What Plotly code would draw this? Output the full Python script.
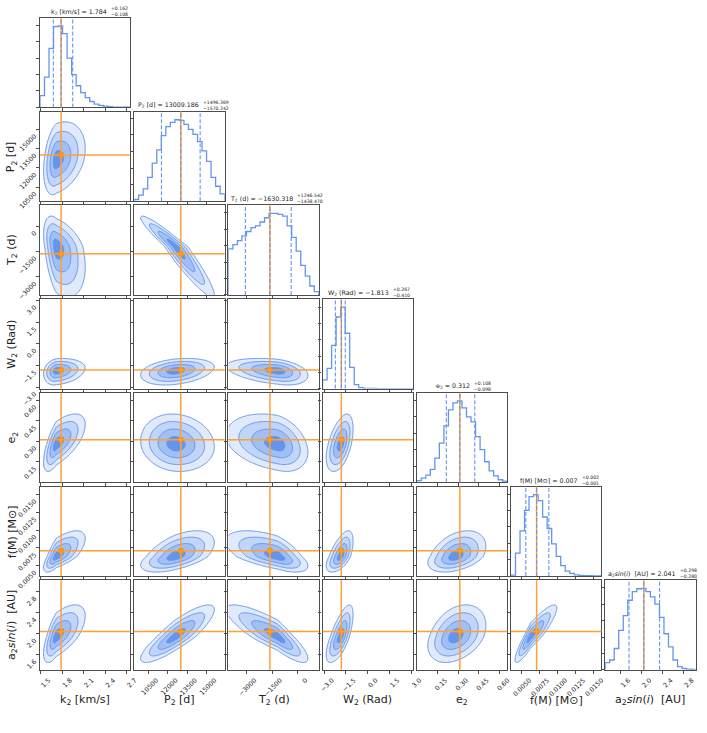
import re
import numpy as np
import plotly.graph_objects as go

W, H = 707, 733

BLUE = "#6495ED"
ORANGE_LINE = "#FFA033"
ORANGE_DOT = "#FF8C00"
FRAME = "#4D4D4D"
TEXT = "#222222"
FILLS = ["#E0EAFB", "#C1D5F8", "#A2BFF4", "#6495ED"]  # 2, 1.5, 1, 0.5 sigma
SIGMA_LEVELS = [2.0, 1.5, 1.0, 0.5]

# --- parameters -------------------------------------------------------------
labels = [
    "k<sub>2</sub> [km/s]",
    "P<sub>2</sub> [d]",
    "T<sub>2</sub> (d)",
    "W<sub>2</sub> (Rad)",
    "e<sub>2</sub>",
    "f(M) [M⊙]",
    "a<sub>2</sub><i>sin</i>(<i>i</i>)  [AU]",
]
med_txt = ["1.784", "13009.186", "−1630.318", "−1.813", "0.312", "0.007", "2.041"]
plus_txt = ["0.162", "1496.369", "1246.542", "0.267", "0.108", "0.002", "0.298"]
minus_txt = ["0.108", "1570.242", "1438.470", "0.410", "0.098", "0.001", "0.280"]

# quantile lines (16 / 50 / 84 %) and truth values
q16 = [1.676, 11513, -3068, -2.223, 0.214, 0.0056, 1.761]
q50 = [1.784, 13009, -1630, -1.813, 0.312, 0.0071, 2.041]
q84 = [1.946, 14505, -384, -1.546, 0.420, 0.0088, 2.339]
truths = [1.784, 13009, -1630, -1.813, 0.312, 0.0071, 2.041]

# axis extents and ticks
ranges = [[1.49, 2.75], [9400, 16400], [-4066, 1238], [-3.1, 3.1],
          [0.0, 0.655], [0.00354, 0.0161], [1.31, 3.02]]
tickvals = [[1.5, 1.8, 2.1, 2.4, 2.7], [10500, 12000, 13500, 15000],
            [-3000, -1500, 0], [-3.0, -1.5, 0.0, 1.5, 3.0],
            [0.15, 0.30, 0.45, 0.60], [0.0050, 0.0075, 0.0100, 0.0125, 0.0150],
            [1.6, 2.0, 2.4, 2.8]]
tickfmts = [".1f", "d", "d", ".1f", ".2f", ".4f", ".1f"]

# 1D histograms (20 bins over each axis range)
k2_counts = [36, 92, 180, 246, 248, 225, 150, 100, 66, 45, 30, 18, 10, 6, 4, 2, 1, 1, 0.5, 0.5]
p2_counts = [5, 18, 37, 72, 115, 155, 198, 225, 238, 246, 244, 232, 217, 202, 180, 152, 120, 72, 45, 22]
t2_counts = [140, 153, 165, 180, 193, 205, 210, 222, 235, 248, 248, 245, 240, 210, 175, 133, 90, 57, 27, 10]
w2_counts = [27, 62, 133, 220, 250, 170, 65, 12, 3, 1, 0.5, 0.3, 0.2, 0.1, 0.1, 0.1, 0.1, 0.1, 0.1, 0.1]
e2_counts = [5, 13, 22, 40, 74, 120, 173, 222, 243, 249, 228, 200, 185, 140, 100, 63, 35, 20, 8, 4]
fm_counts = [3, 70, 138, 200, 242, 248, 230, 180, 145, 98, 60, 32, 15, 8, 4, 2, 1, 1, 0.5, 0.5]
a2_counts = [22, 30, 65, 120, 165, 212, 238, 247, 248, 238, 222, 200, 160, 110, 70, 30, 10, 4, 2, 1]
hists = [k2_counts, p2_counts, t2_counts, w2_counts, e2_counts, fm_counts, a2_counts]

# 2D density shape: mode, lower / upper width per parameter
modes = [1.72, 12600, -1200, -1.85, 0.28, 0.0063, 1.95]
sig_lo = [0.09, 1350, 1500, 0.50, 0.10, 0.0011, 0.25]
sig_hi = [0.20, 1500, 900, 0.42, 0.11, 0.0018, 0.30]
# correlation for each (row, col) pair below the diagonal
rho = {
    (1, 0): 0.30,
    (2, 0): -0.40, (2, 1): -0.95,
    (3, 0): 0.20, (3, 1): 0.30, (3, 2): -0.35,
    (4, 0): 0.65, (4, 1): -0.10, (4, 2): -0.30, (4, 3): 0.50,
    (5, 0): 0.70, (5, 1): 0.55, (5, 2): -0.60, (5, 3): 0.60, (5, 4): 0.40,
    (6, 0): 0.65, (6, 1): 0.85, (6, 2): -0.85, (6, 3): 0.70, (6, 4): 0.35, (6, 5): 0.90,
}

# --- layout geometry (pixels) ----------------------------------------------
N = 7
X0, Y0, PITCH, PW, PH = 36.7, 18.3, 96.1, 92.3, 91.8
TITLE_FS, SCRIPT_FS = 6.3, 4.6


def text_w(s, fs):
    return len(re.sub(r"<[^>]+>", "", s)) * 0.6 * fs


def zscore(v, k):
    d = v - modes[k]
    return np.where(d < 0, d / sig_lo[k], d / sig_hi[k])


fig = go.Figure()
layout_axes = {}
annotations = []
shapes = []
axis_id = 0

for i in range(N):
    for j in range(i + 1):
        axis_id += 1
        sfx = "" if axis_id == 1 else str(axis_id)
        xref, yref = "x" + sfx, "y" + sfx
        left = X0 + j * PITCH
        top = Y0 + i * PITCH
        common = dict(
            showline=True, mirror=True, linecolor=FRAME, linewidth=1.2,
            ticks="outside", ticklen=3, tickwidth=1, tickcolor=FRAME,
            showgrid=False, zeroline=False, fixedrange=True,
            tickfont=dict(size=6.5, color=TEXT, family="DejaVu Sans"),
            tickangle=-45,
        )
        layout_axes["xaxis" + sfx] = dict(
            common, domain=[left / W, (left + PW) / W], anchor=yref,
            range=ranges[j], tickvals=tickvals[j], tickformat=tickfmts[j],
            showticklabels=(i == N - 1), ticklabelshift=8,
        )
        if i == j:
            counts = hists[i]
            lo, hi = ranges[i]
            edges = np.linspace(lo, hi, len(counts) + 1)
            xs = np.concatenate([[edges[0]], edges])
            ys = np.concatenate([[0], counts, [0]])
            fig.add_trace(go.Scatter(
                x=xs, y=ys, mode="lines", line=dict(color=BLUE, width=1.3, shape="hv"),
                xaxis=xref, yaxis=yref, hoverinfo="skip", showlegend=False,
            ))
            layout_axes["yaxis" + sfx] = dict(
                common, domain=[1 - (top + PH) / H, 1 - top / H], anchor=xref,
                range=[0, 1.1 * max(counts)], nticks=8, showticklabels=False,
            )
            shapes.append(dict(type="line", xref=xref, yref=yref + " domain",
                               x0=truths[i], x1=truths[i], y0=0, y1=1,
                               line=dict(color=ORANGE_LINE, width=1.5)))
            for q in (q16[i], q50[i], q84[i]):
                shapes.append(dict(type="line", xref=xref, yref=yref + " domain",
                                   x0=q, x1=q, y0=0, y1=1,
                                   line=dict(color=BLUE, width=1.1, dash="4px,2px")))
            # title with stacked errors
            cx = left + PW / 2
            main = f"{labels[i]} = {med_txt[i]}"
            script = f"+{plus_txt[i]}<br>−{minus_txt[i]}"
            wm, ws = text_w(main, TITLE_FS), text_w("+" + plus_txt[i], SCRIPT_FS)
            xr = min(cx + (wm + ws) / 2 - ws, W - ws - 3)
            ty = 1 - (top - 6.5) / H
            annotations.append(dict(
                text=main, x=xr / W, y=ty, xref="paper", yref="paper",
                xanchor="right", yanchor="middle", showarrow=False,
                font=dict(size=TITLE_FS, color=TEXT, family="DejaVu Sans"),
            ))
            annotations.append(dict(
                text=script, x=xr / W, y=ty, xref="paper", yref="paper",
                xanchor="left", yanchor="middle", showarrow=False, align="left",
                font=dict(size=SCRIPT_FS, color=TEXT, family="DejaVu Sans"),
            ))
        else:
            gx = np.linspace(ranges[j][0], ranges[j][1], 110)
            gy = np.linspace(ranges[i][0], ranges[i][1], 110)
            u = zscore(gx, j)[None, :]
            v = zscore(gy, i)[:, None]
            r = rho[(i, j)]
            z = np.sqrt((u ** 2 - 2 * r * u * v + v ** 2) / (1 - r ** 2))
            for lev, fc in zip(SIGMA_LEVELS, FILLS):
                fig.add_trace(go.Contour(
                    x=gx, y=gy, z=z,
                    contours=dict(type="constraint", operation=">", value=lev),
                    fillcolor=fc, line=dict(color=BLUE, width=1, smoothing=1),
                    showscale=False, hoverinfo="skip", xaxis=xref, yaxis=yref,
                ))
            layout_axes["yaxis" + sfx] = dict(
                common, domain=[1 - (top + PH) / H, 1 - top / H], anchor=xref,
                range=ranges[i], tickvals=tickvals[i], tickformat=tickfmts[i],
                showticklabels=(j == 0), ticklabelshift=6,
            )
            shapes.append(dict(type="line", xref=xref, yref=yref + " domain",
                               x0=truths[j], x1=truths[j], y0=0, y1=1,
                               line=dict(color=ORANGE_LINE, width=1.5)))
            shapes.append(dict(type="line", xref=xref + " domain", yref=yref,
                               x0=0, x1=1, y0=truths[i], y1=truths[i],
                               line=dict(color=ORANGE_LINE, width=1.5)))
            fig.add_trace(go.Scatter(
                x=[truths[j]], y=[truths[i]], mode="markers",
                marker=dict(color=ORANGE_DOT, size=6),
                xaxis=xref, yaxis=yref, hoverinfo="skip", showlegend=False,
            ))

# axis labels
for k in range(N):
    cx = X0 + k * PITCH + PW / 2
    annotations.append(dict(
        text=labels[k], x=cx / W, y=1 - 718 / H, xref="paper", yref="paper",
        xanchor="center", yanchor="middle", showarrow=False,
        font=dict(size=11, color=TEXT, family="DejaVu Sans"),
    ))
for k in range(1, N):
    cy = Y0 + k * PITCH + PH / 2
    annotations.append(dict(
        text=labels[k], x=8 / W, y=1 - cy / H, xref="paper", yref="paper",
        xanchor="center", yanchor="middle", textangle=-90, showarrow=False,
        font=dict(size=11, color=TEXT, family="DejaVu Sans"),
    ))

fig.update_layout(
    width=W, height=H, autosize=False,
    margin=dict(l=0, r=0, t=0, b=0),
    paper_bgcolor="white", plot_bgcolor="white",
    showlegend=False,
    font=dict(family="DejaVu Sans", color=TEXT),
    annotations=annotations, shapes=shapes,
    **layout_axes,
)

fig.write_html(
    "out.html",
    config={"displayModeBar": False, "responsive": False},
    post_script=(
        "document.body.style.margin='0';"
        "document.body.style.overflow='hidden';"
        "document.documentElement.style.overflow='hidden';"
    ),
)
